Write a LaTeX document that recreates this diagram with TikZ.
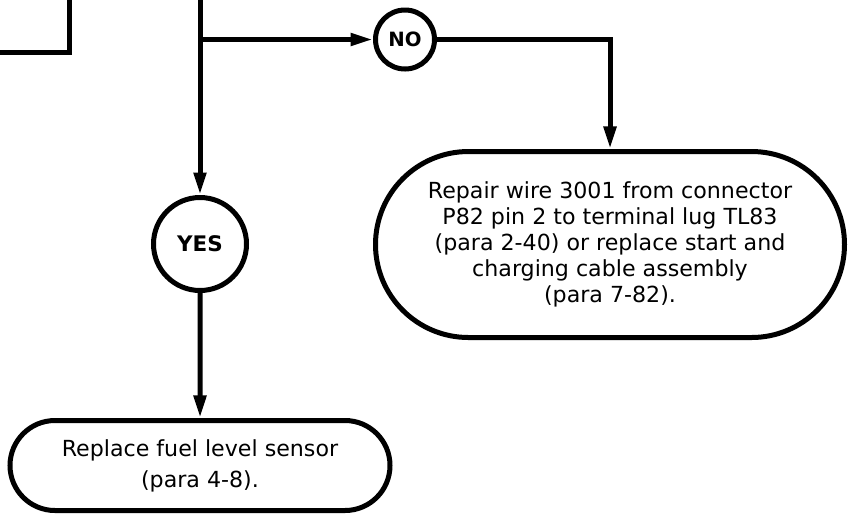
\documentclass[tikz,border=0pt]{standalone}
\usepackage{fontspec}
\setmainfont{DejaVu Sans}
\usetikzlibrary{shapes.misc, arrows.meta, positioning}
\tikzset{
	prevbox/.style  ={rectangle, draw=black, line width=0.1cm, minimum width=4cm, minimum height=3cm},
	endbox/.style   ={rounded rectangle, draw=black, line width=0.1cm, align=center, inner sep=0pt, font=\fontsize{12.6}{14.8}\selectfont},
	answer/.style   ={circle, draw=black, line width=0.1cm, inner sep=0pt, font=\fontsize{12.2}{13}\selectfont\bfseries},
	flow/.style     ={-{Triangle[length=0.45cm, width=0.24cm]}, line width=0.1cm},
}
\begin{document}
\begin{tikzpicture}
	\useasboundingbox (0,0) rectangle (17,-10.32);
	\clip (0,0) rectangle (17,-10.32);
	% box of the step before, cut by the page
	\node[prevbox, anchor=south east] (prev) at (1.43,-1.09) {};
	% answers
	\node[answer, minimum size=1.18cm, font=\fontsize{11.2}{13}\selectfont\bfseries] (no) at (8.10,-0.79) {NO};
	\node[answer, minimum size=1.86cm] (yes) at (4.0,-4.88) {YES};
	% actions
	\node[endbox, minimum width=9.38cm, minimum height=3.72cm] (repair) at (12.2,-4.89)
		{Repair wire 3001 from connector\\P82 pin 2 to terminal lug TL83\\(para 2-40) or replace start and\\charging cable assembly\\(para 7-82).};
	\node[endbox, minimum width=7.6cm, minimum height=1.8cm] (sensor) at (4.0,-9.31)
		{Replace fuel level sensor\\[0.1cm](para 4-8).};
	% connectors
	\coordinate (top) at (4.0,0.1);
	\coordinate (split) at (4.0,-0.79);
	\draw[flow] (top) -- (yes);
	\draw[flow] (split) -- (no);
	\draw[flow] (no) -| (repair);
	\draw[flow] (yes) -- (sensor);
\end{tikzpicture}
\end{document}
